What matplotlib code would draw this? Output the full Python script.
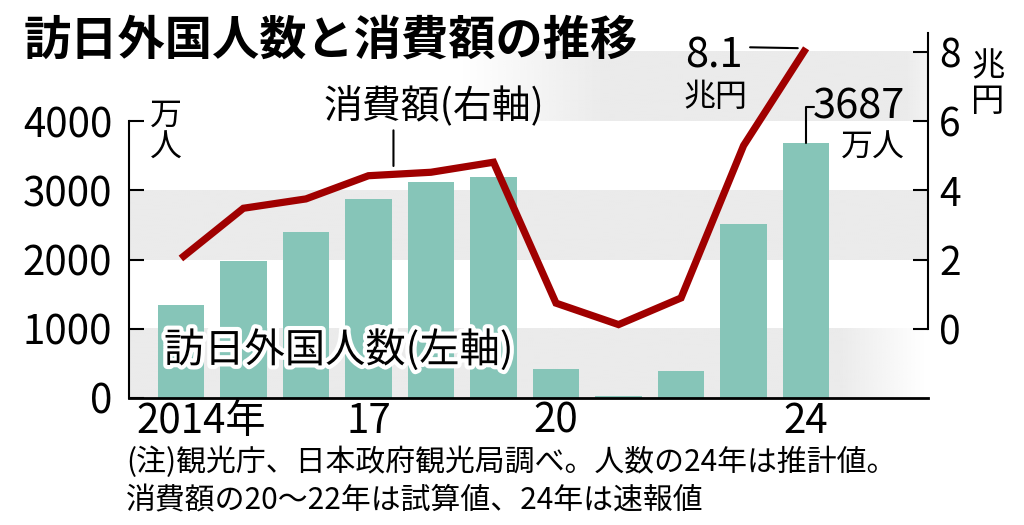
import numpy as np
import matplotlib
matplotlib.use("Agg")
import matplotlib.pyplot as plt
import matplotlib.patheffects as pe
from matplotlib.transforms import ScaledTranslation

plt.rcParams['font.family'] = ['Noto Sans CJK JP', 'DejaVu Sans']

# ---- data ----
years = [2014, 2015, 2016, 2017, 2018, 2019, 2020, 2021, 2022, 2023, 2024]
visitors = [1341, 1974, 2404, 2869, 3119, 3188, 412, 25, 383, 2507, 3687]   # 万人
spending = [2.03, 3.48, 3.75, 4.42, 4.52, 4.81, 0.74, 0.12, 0.89, 5.29, 8.1]  # 兆円
xtick_years = [2014, 2017, 2020, 2024]
xtick_labels = ['2014年', '17', '20', '24']
left_ticks = [0, 1000, 2000, 3000, 4000]
right_ticks = [0, 2, 4, 6, 8]

title = '訪日外国人数と消費額の推移'
note1 = '(注)観光庁、日本政府観光局調べ。人数の24年は推計値。'
note2 = '消費額の20～22年は試算値、24年は速報値'

BAR = '#86C5B8'
LINE = '#A00000'
GRAY = np.array([235, 235, 235]) / 255.0

W, H = 1024, 525
fig = plt.figure(figsize=(W / 100, H / 100), dpi=100)
fig.patch.set_facecolor('white')

def fx(px):
    return px / W

def fy(py):
    return 1 - py / H

ax = fig.add_axes([fx(129), fy(398), fx(928) - fx(129), fy(33) - fy(398)])
ax.set_facecolor('none')
xlim = (2013.17, 2025.95)
ylim = (0, 5271)
ax.set_xlim(*xlim)
ax.set_ylim(*ylim)

# background bands (with gradients)
def band(y0, y1, xs, alphas):
    n = 400
    xx = np.linspace(xlim[0], xlim[1], n)
    a = np.interp(xx, xs, alphas)
    img = np.ones((1, n, 4))
    img[0, :, :3] = GRAY
    img[0, :, 3] = a
    ax.imshow(img, extent=[xlim[0], xlim[1], y0, y1], aspect='auto',
              zorder=0, interpolation='bilinear')

band(0, 1000, [xlim[0], 2024.55, 2025.9, xlim[1]], [1, 1, 0, 0])
band(2000, 3000, [xlim[0], xlim[1]], [1, 1])
band(4000, 5000, [xlim[0], 2018.5, 2020.8, 2025.6, xlim[1]], [0, 0, 1, 1, 0.6])
ax.set_xlim(*xlim)
ax.set_ylim(*ylim)

ax.bar(years, visitors, width=0.74, color=BAR, zorder=2)

for s in ['top', 'right']:
    ax.spines[s].set_visible(False)
ax.spines['left'].set_bounds(0, 4000)
ax.spines['left'].set_linewidth(1.5)
ax.spines['bottom'].set_linewidth(2)
ax.set_yticks(left_ticks)
ax.set_yticklabels([str(t) for t in left_ticks])
ax.tick_params(axis='y', direction='in', length=11, width=1.5, labelsize=29, pad=12)
ax.set_xticks(xtick_years)
ax.set_xticklabels(xtick_labels)
ax.tick_params(axis='x', length=0, labelsize=29, pad=2)
xl = ax.get_xticklabels()[0]
xl.set_transform(xl.get_transform() + ScaledTranslation(0.2, 0, fig.dpi_scale_trans))

# right axis
ax2 = ax.twinx()
ax2.set_ylim((ylim[0] - 1000) / 500, (ylim[1] - 1000) / 500)
ax2.set_xlim(*xlim)
for s in ['top', 'left', 'bottom']:
    ax2.spines[s].set_visible(False)
ax2.spines['right'].set_bounds(0, (ylim[1] - 1000) / 500)
ax2.spines['right'].set_linewidth(1.5)
ax2.set_yticks(right_ticks)
ax2.set_yticklabels([str(t) for t in right_ticks])
ax2.tick_params(axis='y', direction='in', length=11, width=1.5, labelsize=28, pad=8)

ax2.plot(years, spending, color=LINE, lw=5.2, solid_joinstyle='miter',
         solid_capstyle='butt', zorder=3)

# annotations
xi = 2017.4
yi = float(np.interp(xi, years, spending))
ax2.annotate('', xy=(xi, yi), xytext=(0, 44), textcoords='offset pixels',
             arrowprops=dict(arrowstyle='-', lw=1.5, color='black', shrinkA=0, shrinkB=6))
ax2.annotate('消費額(右軸)', xy=(xi, yi), xytext=(-70, 67), textcoords='offset pixels',
             ha='left', va='center', fontsize=28)

# 8.1 兆円
ax2.annotate('', xy=(years[-1], spending[-1]), xytext=(-56, 1), textcoords='offset pixels',
             arrowprops=dict(arrowstyle='-', lw=1.5, color='black', shrinkA=0, shrinkB=6))
ax2.annotate(f'{spending[-1]:.1f}', xy=(years[-1], spending[-1]), xytext=(-92, -8),
             textcoords='offset pixels', ha='center', va='center', fontsize=30)
ax2.annotate('兆円', xy=(years[-1], spending[-1]), xytext=(-91, -49),
             textcoords='offset pixels', ha='center', va='center', fontsize=23)

# 3687 万人
ax.annotate('', xy=(years[-1], visitors[-1]), xytext=(8, 36), textcoords='offset pixels',
            arrowprops=dict(arrowstyle='-', lw=1.5, color='black', shrinkA=0, shrinkB=0,
                            connectionstyle='angle,angleA=0,angleB=90,rad=0'))
ax.annotate(f'{visitors[-1]}', xy=(years[-1], visitors[-1]), xytext=(99, 36),
            textcoords='offset pixels', ha='right', va='center', fontsize=30)
ax.annotate('万人', xy=(years[-1], visitors[-1]), xytext=(99, -5),
            textcoords='offset pixels', ha='right', va='center', fontsize=23)

# unit labels
fig.text(fx(166), fy(132), '万\n人', ha='center', va='center', fontsize=23, linespacing=1.0)
fig.text(fx(988), fy(84), '兆\n円', ha='center', va='center', fontsize=24, linespacing=1.0)

# series label
fig.text(fx(164), fy(350), '訪日外国人数(左軸)', ha='left', va='center', fontsize=29,
         path_effects=[pe.withStroke(linewidth=6, foreground='white')])

# title
fig.text(fx(24), fy(41), title, ha='left', va='center', fontsize=34, fontweight='bold')

# footnotes
fig.text(fx(126), fy(462), note1, ha='left', va='center', fontsize=21.5)
fig.text(fx(126), fy(501), note2, ha='left', va='center', fontsize=21.5)

fig.savefig('out.png', dpi=100)
